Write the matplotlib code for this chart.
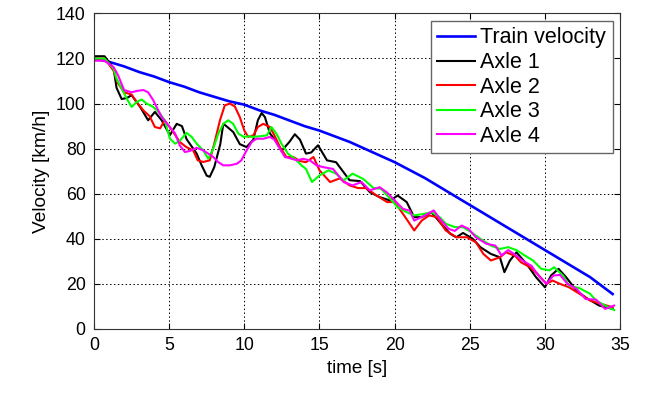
import matplotlib
matplotlib.use("Agg")
import matplotlib.pyplot as plt

plt.rcParams['font.family'] = ['Liberation Sans', 'DejaVu Sans']

# train velocity
train_t = [0, 1, 2, 3, 4, 5, 6, 7, 8, 9, 10, 11, 12, 13, 14, 15, 16, 17, 18,
           19, 20, 21, 22, 23, 24, 25, 26, 27, 28, 29, 30, 31, 32, 33, 34, 34.5]
train_v = [120, 118.5, 116.5, 114, 112, 109.5, 107.5, 105, 103, 101, 99.5, 97,
           95, 92.5, 90, 88, 85.5, 83, 80, 77, 74, 70.5, 67, 63, 59, 55, 51,
           47, 43, 39, 35, 31, 27, 23, 18, 15.5]

axle1_t = [0, 0.7, 1.3, 1.5, 1.84, 2.2, 2.5, 3.07, 3.6, 4.05, 4.5, 5.05, 5.5,
           5.85, 6.16, 6.83, 7.16, 7.5, 7.7, 8.0, 8.4, 8.6, 8.8, 9.26, 9.7,
           10.15, 10.6, 10.9, 11.15, 11.37, 11.7, 12.03, 12.47, 13.0, 13.36,
           13.7, 14.1, 14.45, 14.9, 15.5, 16.1, 17.0, 17.7, 18.35, 19.0, 19.7,
           20.2, 20.8, 21.3, 21.8, 22.45, 23.0, 23.7, 24.1, 24.55, 25.2, 25.7,
           26.4, 27.0, 27.3, 27.66, 28.1, 28.77, 29.4, 30.0, 30.4, 30.9, 31.4,
           32.1, 32.7, 33.6, 34.5]
axle1_v = [121, 121, 115.7, 107, 102, 102.5, 103.7, 98.5, 92.6, 96.3, 92.6, 86,
           91, 90, 84.2, 77.8, 72.6, 68, 67.5, 71.8, 82, 91, 90, 87.4, 82,
           80.7, 84, 92.6, 95.8, 94, 86.8, 84, 79, 83, 86.4,
           84, 77.8, 78.3, 81.5, 74.8, 74, 66, 65.6, 60.7, 58.5, 57,
           59.2, 56.3, 49.6, 49.6, 51.8, 47.4, 42.2, 40.7, 42.6, 40, 36.3,
           33.3, 31.8, 25.2, 30.3, 34, 28.9, 23, 18.5, 23.7, 26.7, 23,
           17, 14, 10.4, 8.9]

axle2_t = [0, 0.7, 1.3, 1.6, 2.0, 2.5, 2.84, 3.28, 3.7, 4.05, 4.4, 4.7, 5.27,
           5.7, 6.14, 6.6, 6.9, 7.27, 7.7, 8.0, 8.38, 8.7, 9.04, 9.37, 9.7,
           10.0, 10.26, 10.6, 10.9, 11.26, 11.7, 12.0, 12.37, 12.8, 13.25,
           13.7, 14.1, 14.6, 15.0, 15.7, 16.35, 17.0, 17.57, 18.1, 18.8, 19.5,
           20.0, 20.55, 21.0, 21.3, 21.8, 22.3, 22.8, 23.4, 24.1, 24.8, 25.4,
           25.9, 26.4, 27.0, 27.4, 28.0, 28.4, 29.0, 29.5, 30.1, 30.5, 31.0,
           31.6, 32.3, 33.0, 33.75, 34.5]
axle2_v = [120, 120, 114.6, 109, 105, 104, 100.7, 97, 94.4, 89.6, 89, 92.6, 87.4,
           83, 80.7, 79.2, 74.8, 74.1, 74.8, 82.2, 92.6, 99.2, 100, 98.7, 94,
           88, 85.2, 85.9, 89.6, 91, 89.6, 85.9, 80.7, 76.3, 76.3,
           74.5, 74, 76.3, 70.4, 65.2, 66.8, 63.7, 62.5, 62.5, 59.2, 56.3,
           56.3, 51.1, 46.7, 43.7, 48.1, 50.4, 49.6, 43.7, 40.7, 40.7, 38.5,
           33.3, 30.4, 31.8, 34, 32.5, 29.6, 27.4, 24.4, 20, 21.5, 20,
           18.5, 15.6, 12.6, 11.1, 9.6]

axle3_t = [0, 0.7, 1.3, 1.5, 1.84, 2.2, 2.5, 2.84, 3.16, 3.5, 3.94, 4.4, 4.7,
           5.05, 5.4, 5.7, 6.16, 6.5, 6.83, 7.27, 7.6, 7.93, 8.27, 8.6, 8.93,
           9.26, 9.6, 9.97, 10.3, 10.6, 11.04, 11.5, 11.8, 12.15, 12.47, 12.9,
           13.36, 13.8, 14.1, 14.5, 15.0, 15.6, 16.1, 16.6, 17.2, 17.9, 18.6,
           19.1, 19.7, 20.2, 20.8, 21.3, 21.9, 22.45, 23.0, 23.4, 24.0, 24.55,
           25.1, 25.7, 26.4, 27.0, 27.55, 28.1, 28.66, 29.2, 29.75, 30.3, 30.6,
           31.2, 31.6, 32.3, 33.0, 33.4, 34.0, 34.6]
axle3_v = [120, 120, 115.5, 111, 106.7, 102, 98.5, 100.7, 101.8, 100, 98.5, 95.5,
           92.6, 84.4, 82.2, 83.5, 87, 85.2, 82.2, 79.2, 75.5, 80, 86.7, 91,
           92.6, 91, 86.7, 85.2, 85.5, 85.2, 85.5, 85.9, 89.6, 86.5, 82.2, 77.8,
           75.5, 72.6, 71, 65.2, 68.1, 70.4, 68.9, 65.9, 68.9, 66.6, 62.5,
           62.2, 57.8, 54, 51.8, 50.4, 51, 51.8, 49.6, 46.7, 45.2, 45.2,
           42.9, 40, 37, 35.5, 36.3, 35, 32.6, 30.4, 26.7, 26, 27.4,
           23.7, 19.2, 18.1, 15.6, 12.6, 10.4, 8.4]

axle4_t = [0, 0.7, 1.3, 1.6, 2.0, 2.5, 2.84, 3.28, 3.6, 3.94, 4.16, 4.5, 4.94,
           5.4, 5.7, 6.05, 6.38, 6.83, 7.27, 7.6, 7.93, 8.27, 8.6, 9.04, 9.5,
           9.8, 10.15, 10.5, 10.8, 11.26, 11.7, 12.0, 12.37, 12.7, 13.0, 13.5,
           13.9, 14.36, 14.8, 15.25, 15.9, 16.6, 17.2, 17.8, 18.35, 19.0, 19.5,
           20.0, 20.55, 21.0, 21.3, 21.9, 22.6, 23.0, 23.6, 24.0, 24.45, 24.9,
           25.4, 26.1, 26.7, 27.1, 27.55, 28.0, 28.5, 29.1, 29.65, 30.1, 30.55,
           31.0, 31.5, 32.1, 32.7, 33.4, 34.0, 34.6]
axle4_v = [119, 119, 116.2, 112.6, 106, 105, 105.6, 106, 105, 101.5, 98.5, 94,
           90.4, 86.7, 81.5, 78.5, 79, 80.4, 79.2, 77.8, 76.3, 74, 72.6, 72.6, 73.3,
           74.8, 79.2, 83, 84.4, 84.4, 85.2, 84, 80, 76.3, 75.8, 74.8,
           75.5, 74.8, 72.6, 71.8, 71, 65.2, 63.7, 65.2, 61.5, 62.9, 60.5,
           57, 53.3, 52.5, 48.1, 50, 52.6, 48.9, 44.4, 43.5, 45.9, 44.5,
           40.7, 37.8, 37, 32.6, 35, 33, 30.4, 28, 23, 20, 23.7,
           24, 20, 17.8, 13.3, 13, 8.9, 10.4]

fig = plt.figure(figsize=(6.46, 3.94), dpi=100)
ax = fig.add_axes([0.1455, 0.165, 0.8145, 0.801])

lw = 1.5
ax.plot(train_t, train_v, color='#0000ff', lw=1.9, label='Train velocity')
ax.plot(axle1_t, axle1_v, color='black', lw=lw, label='Axle 1')
ax.plot(axle2_t, axle2_v, color='#ff0000', lw=lw, label='Axle 2')
ax.plot(axle3_t, axle3_v, color='#00ff00', lw=lw, label='Axle 3')
ax.plot(axle4_t, axle4_v, color='#ff00ff', lw=lw, label='Axle 4')

ax.set_xlim(0, 35)
ax.set_ylim(0, 140)
ax.set_xticks(range(0, 36, 5))
ax.set_yticks(range(0, 141, 20))
ax.grid(True, color='black', linestyle=(0, (1.5, 2.5)), linewidth=0.7)
ax.tick_params(direction='in', top=True, right=True, labelsize=12.8, length=4, pad=6)
for s in ax.spines.values():
    s.set_color('#333333')
    s.set_linewidth(0.8)

ax.set_xlabel('time [s]', fontsize=13.5)
ax.set_ylabel('Velocity [km/h]', fontsize=13.8)

leg = ax.legend(loc='upper right', fontsize=15.5, fancybox=False, framealpha=1,
                edgecolor='#666666', borderaxespad=0.35, handlelength=1.75,
                handletextpad=0.25, labelspacing=0.17, borderpad=0.3)
leg.get_frame().set_linewidth(1.0)

fig.savefig('out.png', dpi=100)
